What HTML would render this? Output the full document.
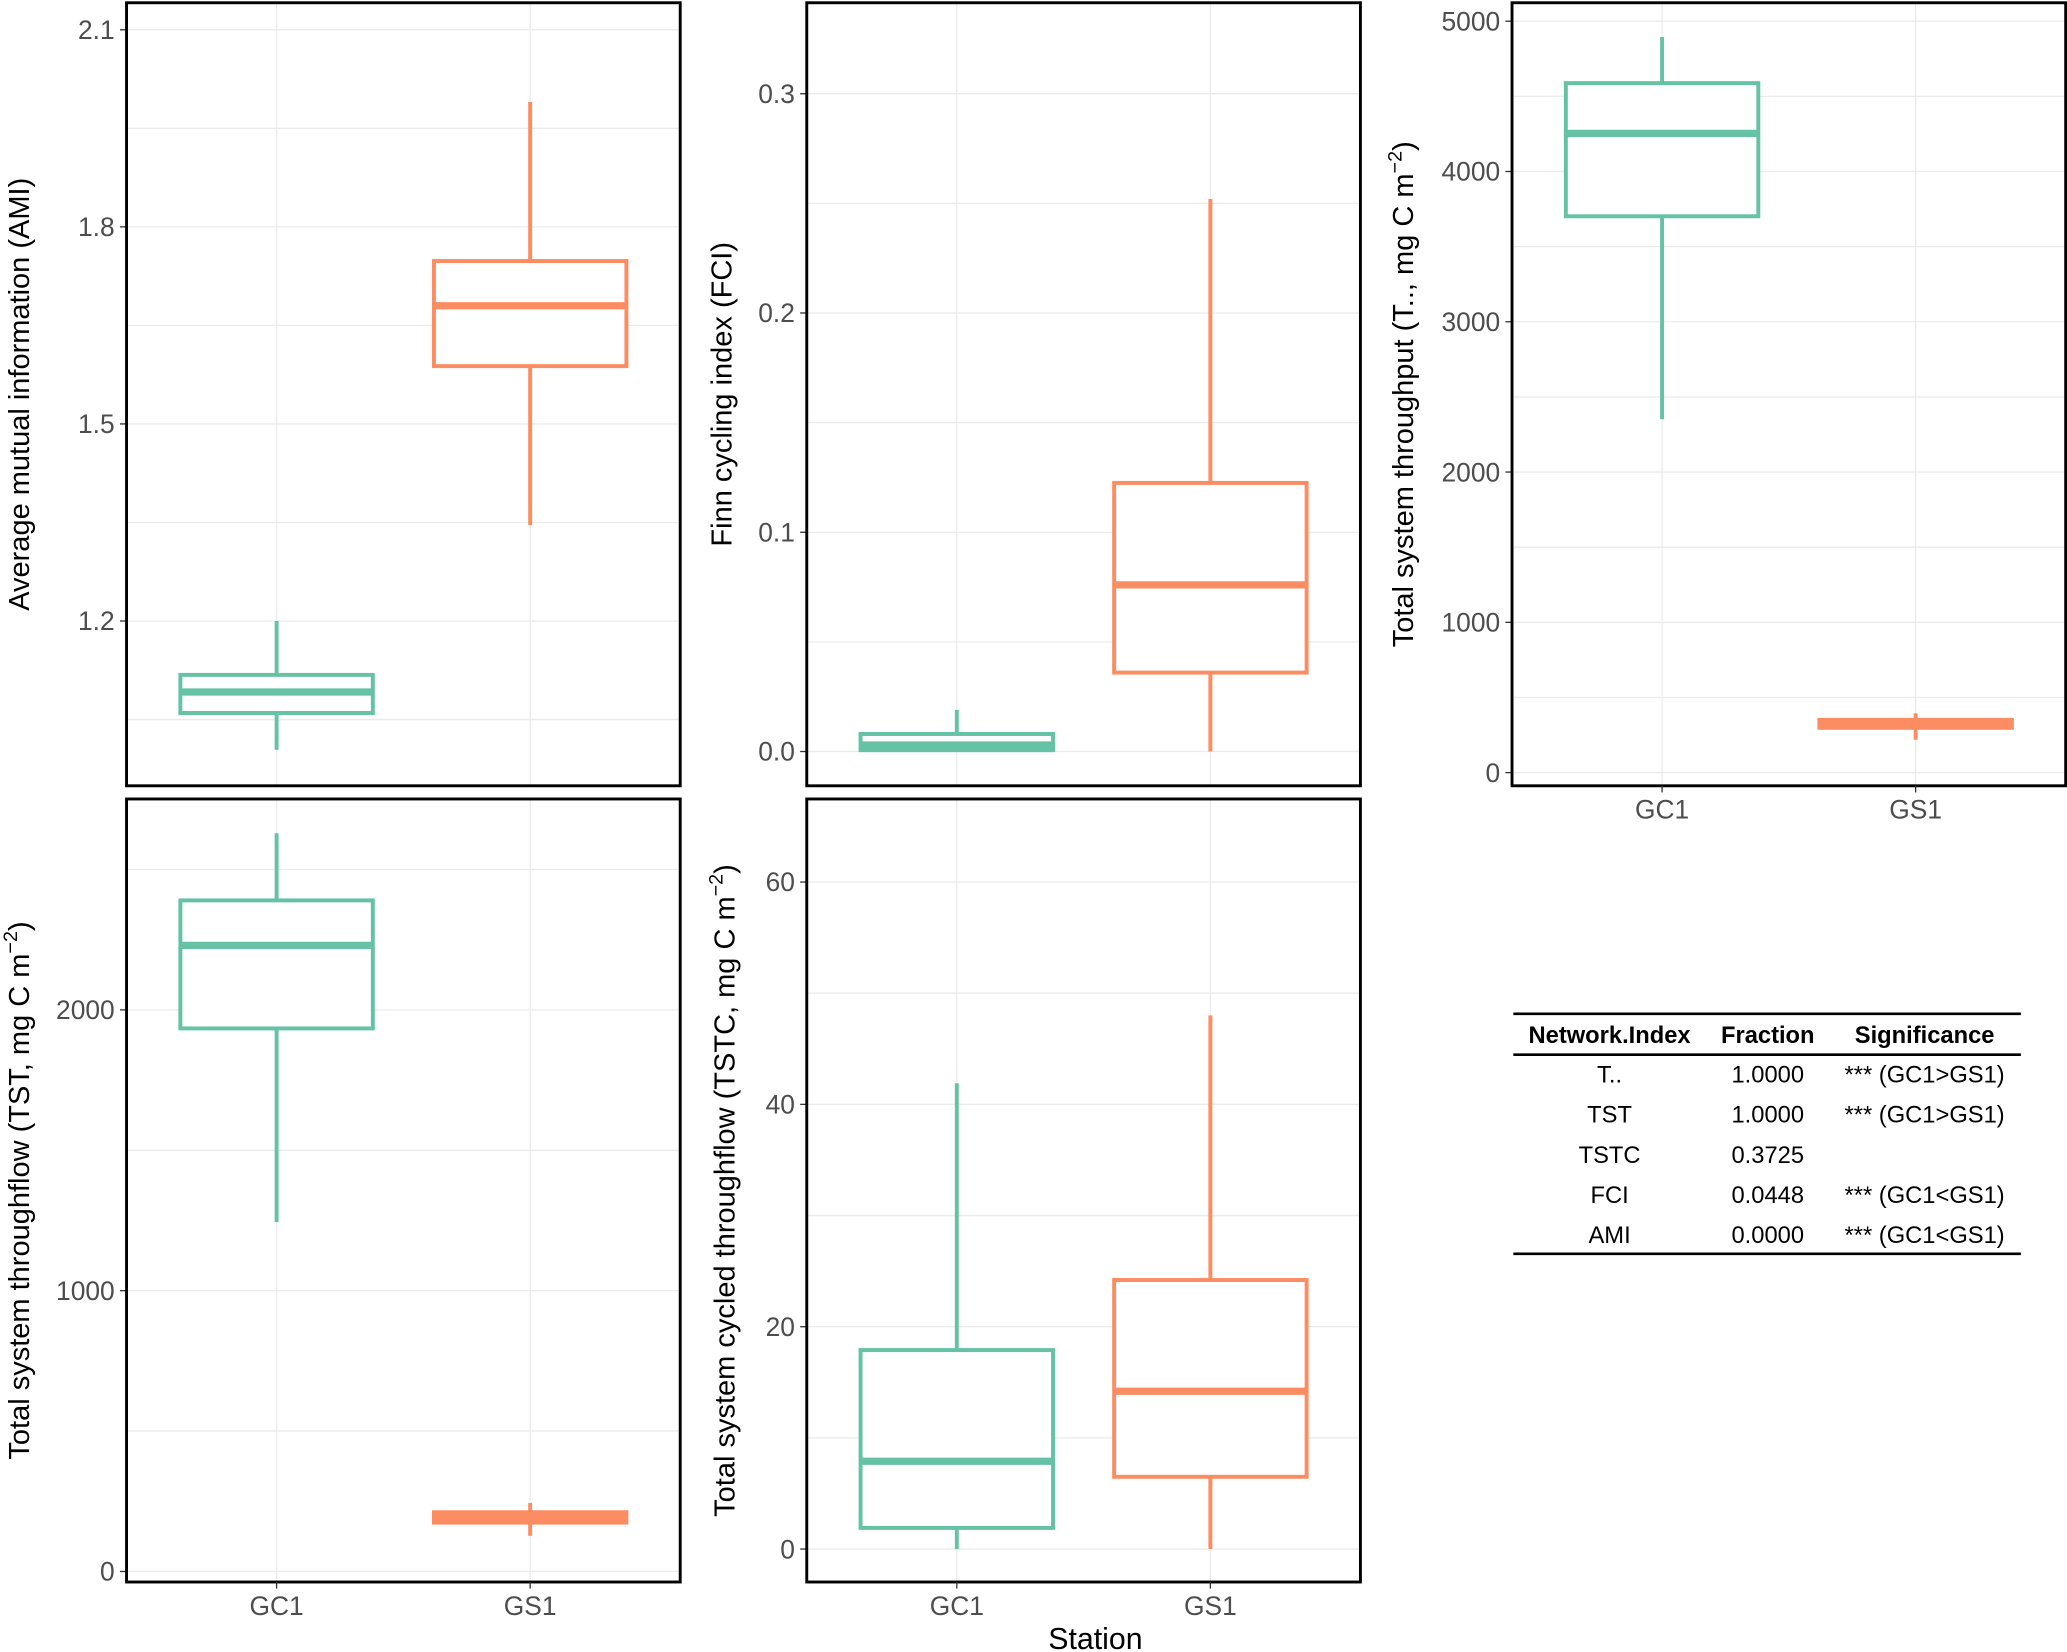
<!DOCTYPE html>
<html><head><meta charset="utf-8"><style>
html,body{margin:0;padding:0;background:#fff}
svg{display:block;font-family:"Liberation Sans",Arial,sans-serif}
</style></head><body>
<svg id="chart" width="2067" height="1652" viewBox="0 0 1568 1253" xmlns="http://www.w3.org/2000/svg"></svg>
<script>
const stations = ["GC1","GS1"];
const colors = ["#66c2a5","#fc8d62"];
// [whiskerLow, q1, median, q3, whiskerHigh] per station
const amiGC1 = [1.004, 1.06, 1.092, 1.118, 1.2];
const amiGS1 = [1.346, 1.588, 1.68, 1.748, 1.99];
const fciGC1 = [0, 0.0006, 0.003, 0.008, 0.019];
const fciGS1 = [0, 0.036, 0.076, 0.1225, 0.252];
const tGC1 = [2351, 3702, 4254, 4588, 4895];
const tGS1 = [219, 298, 325, 351, 395];
const tstGC1 = [1244, 1934, 2230, 2390, 2629];
const tstGS1 = [127, 174, 192, 211, 244];
const tstcGC1 = [0, 1.9, 7.9, 17.9, 41.9];
const tstcGS1 = [0, 6.5, 14.2, 24.2, 48.0];
const amiTicks = [1.2, 1.5, 1.8, 2.1];
const fciTicks = [0.0, 0.1, 0.2, 0.3];
const tTicks = [0, 1000, 2000, 3000, 4000, 5000];
const tstTicks = [0, 1000, 2000];
const tstcTicks = [0, 20, 40, 60];
const tableHeader = ["Network.Index","Fraction","Significance"];
const tableRows = [["T..","1.0000","*** (GC1>GS1)"],["TST","1.0000","*** (GC1>GS1)"],["TSTC","0.3725",""],["FCI","0.0448","*** (GC1<GS1)"],["AMI","0.0000","*** (GC1<GS1)"]];

const svg = document.getElementById('chart');
const NS = "http://www.w3.org/2000/svg";
function mk(tag, attrs, parent){const e=document.createElementNS(NS,tag);for(const k in attrs)e.setAttribute(k,attrs[k]);(parent||svg).appendChild(e);return e;}

const panels = [
 {name:"ami", l:96,r:516,t:2,b:596, v0:1.2,p0:471,v1:1.8,p1:172, ticks:amiTicks, dec:1, data:[amiGC1,amiGS1], title:"Average mutual information (AMI)", tx:16, xl:false},
 {name:"fci", l:612,r:1032,t:2,b:596, v0:0,p0:570,v1:0.3,p1:71, ticks:fciTicks, dec:1, data:[fciGC1,fciGS1], title:"Finn cycling index (FCI)", tx:549, xl:false},
 {name:"t", l:1147,r:1567,t:2,b:596, v0:0,p0:586,v1:5000,p1:16, ticks:tTicks, dec:0, data:[tGC1,tGS1], title:"Total system throughput (T.., mg C m", tx:1066, xl:true},
 {name:"tst", l:96,r:516,t:606,b:1200, v0:0,p0:1192,v1:2000,p1:766, ticks:tstTicks, dec:0, data:[tstGC1,tstGS1], title:"Total system throughflow (TST, mg C m", tx:16, xl:true},
 {name:"tstc", l:612,r:1032,t:606,b:1200, v0:0,p0:1175,v1:60,p1:669, ticks:tstcTicks, dec:0, data:[tstcGC1,tstcGS1], title:"Total system cycled throughflow (TSTC, mg C m", tx:551, xl:true}
];

panels.forEach(p=>{
  const g = mk('g',{});
  
  
  const y = v => p.p0 + (v - p.v0)*(p.p1-p.p0)/(p.v1-p.v0);
  const w = p.r - p.l;
  const xs = [p.l + w*0.271, p.l + w*0.729];
  const step = p.ticks[1]-p.ticks[0];
  const vmin = p.v0 + (p.b - p.p0)/((p.p1-p.p0)/(p.v1-p.v0));
  const vmax = p.v0 + (p.t - p.p0)/((p.p1-p.p0)/(p.v1-p.v0));
  for(let v=p.ticks[0]-step*3; v<=vmax+step; v+=step/2){
    if(v<vmin||v>vmax) continue;
    const ln = mk('line',{x1:p.l,x2:p.r,y1:y(v),y2:y(v),stroke:'#ebebeb','stroke-width':1},g);
    
    
  }
  xs.forEach(x=>{mk('line',{x1:x,x2:x,y1:p.t,y2:p.b,stroke:'#ebebeb','stroke-width':1},g);});
  p.ticks.forEach(v=>{
    mk('line',{x1:p.l-5,x2:p.l,y1:y(v),y2:y(v),stroke:'#333','stroke-width':1},g);
    const t = mk('text',{x:p.l-9,y:y(v)+7,'text-anchor':'end','font-size':20,fill:'#4d4d4d'},g);
    t.textContent = p.dec? v.toFixed(p.dec) : String(v);
    
    
  });
  p.data.forEach((d,i)=>{
    const x = xs[i], hw = 73, c = colors[i];
    const bg = mk('g',{},g);
    
    
    mk('line',{x1:x,x2:x,y1:y(d[0]),y2:y(d[1]),stroke:c,'stroke-width':3},bg);
    mk('line',{x1:x,x2:x,y1:y(d[3]),y2:y(d[4]),stroke:c,'stroke-width':3},bg);
    mk('rect',{x:x-hw,y:y(d[3]),width:hw*2,height:Math.max(0,y(d[1])-y(d[3])),fill:'#fff',stroke:c,'stroke-width':3},bg);
    mk('line',{x1:x-hw,x2:x+hw,y1:y(d[2]),y2:y(d[2]),stroke:c,'stroke-width':5.5},bg);
  });
  mk('rect',{x:p.l,y:p.t,width:w,height:p.b-p.t,fill:'none',stroke:'#000','stroke-width':2.2},g);
  if(p.xl){
    stations.forEach((s,i)=>{
      mk('line',{x1:xs[i],x2:xs[i],y1:p.b,y2:p.b+5,stroke:'#333','stroke-width':1},g);
      const t = mk('text',{x:xs[i],y:p.b+25,'text-anchor':'middle','font-size':20,fill:'#4d4d4d'},g);
      t.textContent = s;
      
      
    });
  }
  const cy = (p.t+p.b)/2;
  const tt = mk('text',{x:0,y:0,'text-anchor':'middle','font-size':22,fill:'#000',transform:`translate(${p.tx+6},${cy}) rotate(-90)`},g);
  
  
  tt.textContent = p.title;
  if(p.title.endsWith('m')){
    const sup = mk('tspan',{dy:-9,'font-size':15},tt); sup.textContent='−2';
    const cl = mk('tspan',{dy:9},tt); cl.textContent=')';
  }
});
const st = mk('text',{x:831,y:1251,'text-anchor':'middle','font-size':23,fill:'#000'});
st.textContent='Station';



const tg = mk('g',{});


const cols = [1221,1341,1460];
mk('line',{x1:1148,x2:1533,y1:769,y2:769,stroke:'#000','stroke-width':2},tg);
mk('line',{x1:1148,x2:1533,y1:800,y2:800,stroke:'#000','stroke-width':2},tg);
mk('line',{x1:1148,x2:1533,y1:951,y2:951,stroke:'#000','stroke-width':2},tg);
tableHeader.forEach((h,i)=>{
  const t = mk('text',{x:cols[i],y:791,'text-anchor':'middle','font-size':18,'font-weight':'bold',fill:'#000'},tg);
  t.textContent=h;
  
  
});
tableRows.forEach((r,j)=>{
  r.forEach((c,i)=>{
    const t = mk('text',{x:cols[i],y:821+j*30.5,'text-anchor':'middle','font-size':18,fill:'#000'},tg);
    t.textContent=c;
    
    
  });
});
</script>
</body></html>
